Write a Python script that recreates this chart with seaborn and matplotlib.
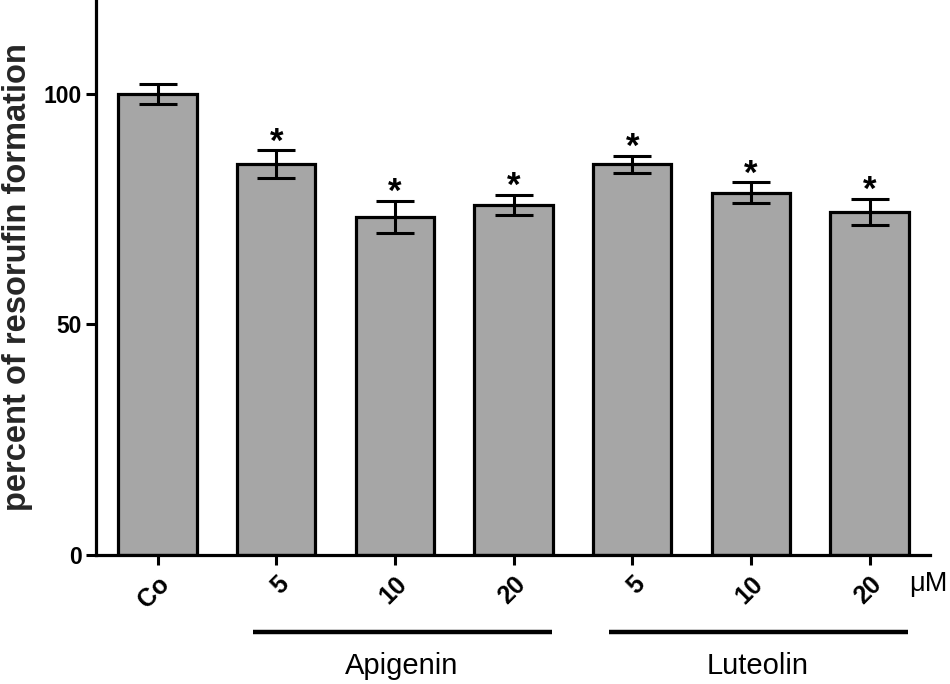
import matplotlib
matplotlib.use("Agg")
import matplotlib.pyplot as plt
import matplotlib.transforms as mtransforms
import seaborn as sns
import pandas as pd

categories = ["Co", "Apigenin 5", "Apigenin 10", "Apigenin 20",
              "Luteolin 5", "Luteolin 10", "Luteolin 20"]
tick_labels = ["Co", "5", "10", "20", "5", "10", "20"]
values = [100.0, 84.7, 73.3, 75.9, 84.7, 78.5, 74.4]
errors = [2.2, 3.0, 3.5, 2.2, 1.8, 2.3, 2.8]
significant = [False, True, True, True, True, True, True]
groups = ["Apigenin", "Luteolin"]
group_members = [["Apigenin 5", "Apigenin 10", "Apigenin 20"],
                 ["Luteolin 5", "Luteolin 10", "Luteolin 20"]]
y_ticks = [0, 50, 100]
unit_label = "μM"
y_label = "percent of resorufin formation"

sns.set_theme(style="ticks")
plt.rcParams['font.family'] = ['Liberation Sans', 'DejaVu Sans']

df = pd.DataFrame({"cat": categories, "val": values, "err": errors})

fig = plt.figure(figsize=(9.5, 6.84), dpi=100)
ax = fig.add_axes([0.101, 0.1886, 0.878, 0.8114])

sns.barplot(data=df, x="cat", y="val", order=categories, color="#a6a6a6",
            saturation=1, width=0.66, edgecolor="black", linewidth=2.3,
            errorbar=None, ax=ax)

xs = list(range(len(categories)))
ax.errorbar(xs, values, yerr=errors, fmt="none", ecolor="black",
            elinewidth=2.2, capsize=13.5, capthick=2.2, zorder=5)

for x, v, e, s in zip(xs, values, errors, significant):
    if s:
        ax.text(x, v + e - 0.3, "*", ha="center", va="baseline",
                fontsize=25, fontweight="bold", color="black")

ax.set_ylim(0, 120.3)
ax.set_xlim(-0.52, 6.51)
ax.set_yticks(y_ticks)
ax.set_yticklabels([str(t) for t in y_ticks], fontsize=16.5, fontweight="bold")
ax.set_xticks(xs)
ax.set_xticklabels(tick_labels, fontsize=18, fontweight="bold", rotation=45,
                   ha="right", rotation_mode="anchor")
ax.set_xlabel("")
ax.set_ylabel(y_label, fontsize=23.5, fontweight="bold", labelpad=8)

for side in ["top", "right"]:
    ax.spines[side].set_visible(False)
for side in ["left", "bottom"]:
    ax.spines[side].set_linewidth(2.3)
    ax.spines[side].set_color("black")
ax.tick_params(axis="both", direction="out", length=7, width=2.2,
               color="black", labelcolor="black")
ax.tick_params(axis="x", pad=5)
ax.tick_params(axis="y", pad=3)

trans = mtransforms.blended_transform_factory(ax.transData, ax.transAxes)
for g, members in zip(groups, group_members):
    idx = [categories.index(m) for m in members]
    x0 = min(idx) - 0.2
    x1 = max(idx) + 0.32
    ax.plot([x0, x1], [-0.139, -0.139], color="black", lw=3.2,
            transform=trans, clip_on=False, solid_capstyle="butt")
    ax.text((x0 + x1) / 2, -0.2, g, transform=trans, ha="center",
            va="center", fontsize=21, color="black")

ax.text(0.975, -0.028, unit_label, transform=ax.transAxes, ha="left",
        va="top", fontsize=19.5, color="black", clip_on=False)

fig.savefig("out.png", dpi=100)
